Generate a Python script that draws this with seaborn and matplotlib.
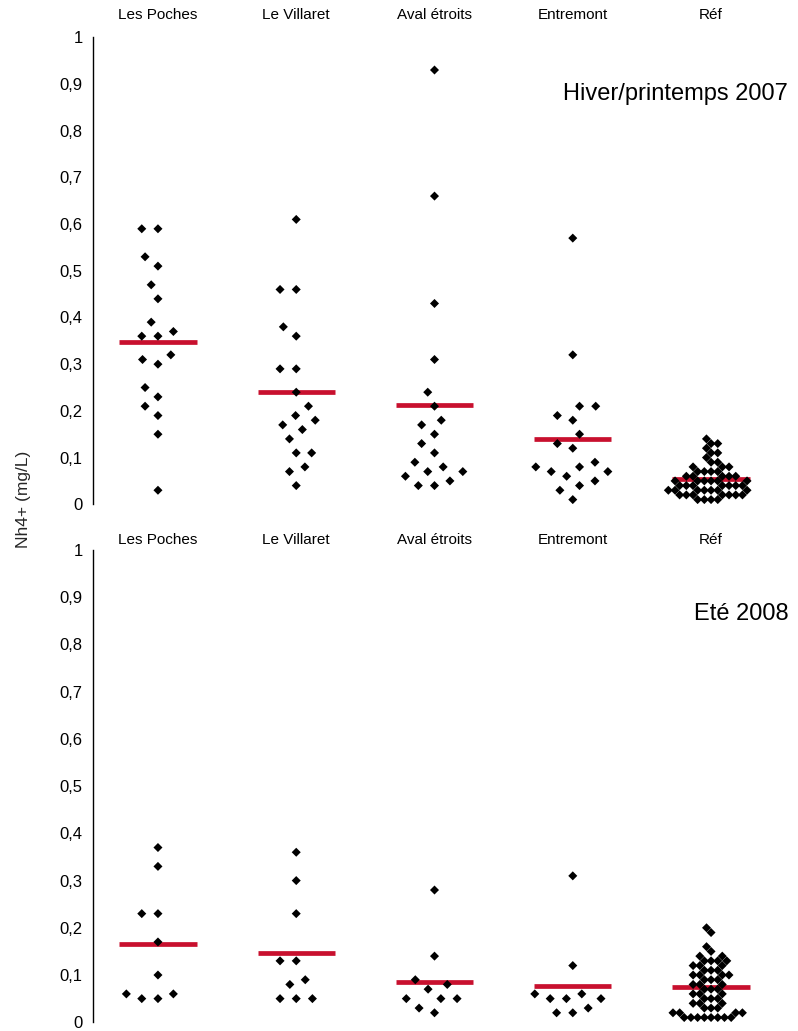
import matplotlib
matplotlib.use('Agg')
import matplotlib.pyplot as plt
import numpy as np
import pandas as pd
import seaborn as sns
from matplotlib.ticker import FuncFormatter, MultipleLocator

categories = ['Les Poches', 'Le Villaret', 'Aval étroits', 'Entremont', 'Réf']

# Hiver/printemps 2007
poches_07 = [0.59, 0.59, 0.53, 0.51, 0.47, 0.44, 0.39, 0.37, 0.36, 0.36, 0.32, 0.31, 0.30, 0.25, 0.23, 0.21, 0.19, 0.15, 0.03]
villaret_07 = [0.61, 0.46, 0.46, 0.38, 0.36, 0.29, 0.29, 0.24, 0.21, 0.19, 0.18, 0.17, 0.16, 0.14, 0.11, 0.11, 0.08, 0.07, 0.04]
aval_07 = [0.93, 0.66, 0.43, 0.31, 0.24, 0.21, 0.18, 0.17, 0.15, 0.13, 0.11, 0.09, 0.08, 0.07, 0.07, 0.06, 0.05, 0.04, 0.04]
entremont_07 = [0.57, 0.32, 0.21, 0.21, 0.19, 0.18, 0.15, 0.13, 0.12, 0.09, 0.08, 0.08, 0.07, 0.07, 0.06, 0.05, 0.04, 0.03, 0.01]
ref_levels_07 = [0.14, 0.13, 0.12, 0.11, 0.10, 0.09, 0.08, 0.07, 0.06, 0.05, 0.04, 0.03, 0.02, 0.01]
ref_counts_07 = [1, 2, 1, 2, 1, 2, 3, 4, 5, 6, 7, 7, 7, 4]

# Eté 2008
poches_08 = [0.37, 0.33, 0.23, 0.23, 0.17, 0.10, 0.06, 0.06, 0.05, 0.05]
villaret_08 = [0.36, 0.30, 0.23, 0.13, 0.13, 0.09, 0.08, 0.05, 0.05, 0.05]
aval_08 = [0.28, 0.14, 0.09, 0.08, 0.07, 0.05, 0.05, 0.05, 0.03, 0.02]
entremont_08 = [0.31, 0.12, 0.06, 0.06, 0.05, 0.05, 0.05, 0.03, 0.02, 0.02]
ref_levels_08 = [0.20, 0.19, 0.16, 0.15, 0.14, 0.13, 0.12, 0.11, 0.10, 0.09, 0.08, 0.07, 0.06, 0.05, 0.04, 0.03, 0.02, 0.01]
ref_counts_08 = [1, 1, 1, 1, 2, 4, 3, 3, 4, 3, 3, 3, 3, 3, 3, 3, 4, 8]


def build_frame(groups, ref_levels, ref_counts):
    rows = []
    for name, vals in zip(categories[:-1], groups):
        rows += [(name, v) for v in vals]
    rows += [(categories[-1], v) for v in np.repeat(ref_levels, ref_counts)]
    return pd.DataFrame(rows, columns=['Site', 'NH4'])


def comma_fmt(v, pos):
    return ('%g' % round(v, 1)).replace('.', ',')


def draw_panel(ax, df, season, season_x, season_y, label_pad):
    sites = df[df['Site'] != 'Réf']
    ref = df[df['Site'] == 'Réf']
    # hidden edge widens the swarm spacing without changing the diamond size
    sns.swarmplot(data=sites, x='Site', y='NH4', order=categories, marker='D', color='black',
                  size=4.6, linewidth=6.5, edgecolor='none', ax=ax, warn_thresh=1)
    sns.swarmplot(data=ref, x='Site', y='NH4', order=categories, marker='D', color='black',
                  size=4.6, linewidth=0, edgecolor='none', ax=ax, warn_thresh=1)
    means = df.groupby('Site', sort=False)['NH4'].mean().reindex(categories)
    pos = np.arange(len(categories))
    ax.hlines(means.values, pos - 0.28, pos + 0.28, color='#c8102e', lw=3.4, zorder=2)

    ax.set_xlim(-0.47, 4.6)
    ax.set_ylim(0, 1)
    ax.yaxis.set_major_locator(MultipleLocator(0.1))
    ax.yaxis.set_major_formatter(FuncFormatter(comma_fmt))
    ax.xaxis.set_ticks_position('top')
    ax.tick_params(axis='x', length=0, pad=label_pad, labelsize=11, colors='black')
    ax.tick_params(axis='y', direction='inout', length=9, width=1, pad=3, labelsize=12, colors='black')
    ax.set_xlabel('')
    ax.set_ylabel('')
    for side in ['top', 'right', 'bottom']:
        ax.spines[side].set_visible(False)
    ax.spines['left'].set_color('black')
    ax.spines['left'].set_linewidth(1)
    ax.text(season_x, season_y, season, fontsize=17, ha='left', va='center', color='black')


sns.set_theme(style='white')
plt.rcParams['font.family'] = ['Liberation Sans', 'DejaVu Sans']

fig = plt.figure(figsize=(7.98, 10.31), dpi=100)
ax_top = fig.add_axes([0.1165, 0.5109, 0.8785, 0.4529])
ax_bot = fig.add_axes([0.1165, 0.0085, 0.8785, 0.4580])

df_07 = build_frame([poches_07, villaret_07, aval_07, entremont_07], ref_levels_07, ref_counts_07)
df_08 = build_frame([poches_08, villaret_08, aval_08, entremont_08], ref_levels_08, ref_counts_08)

draw_panel(ax_top, df_07, 'Hiver/printemps 2007', 2.93, 0.879, 11)
draw_panel(ax_bot, df_08, 'Eté 2008', 3.88, 0.865, 2)

fig.text(24 / 798, 1 - 499 / 1031, 'Nh4+ (mg/L)', rotation=90, ha='center', va='center', fontsize=12.5)

fig.savefig('out.png', dpi=100, facecolor='white')
plt.close(fig)
